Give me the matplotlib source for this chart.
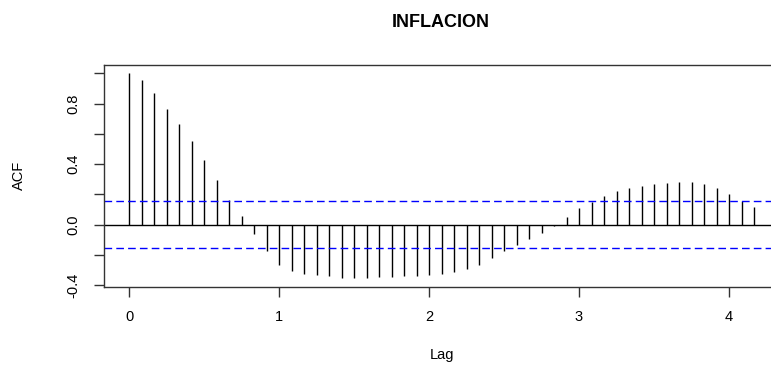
import numpy as np
import matplotlib
matplotlib.use("Agg")
import matplotlib.pyplot as plt

# ACF values, lags 0..50 (monthly, so lag/12)
acf_values = [
    1.000, 0.956, 0.868, 0.767, 0.664, 0.554, 0.428, 0.292, 0.165, 0.057,
    -0.059, -0.174, -0.266, -0.305, -0.325, -0.332, -0.341, -0.354, -0.356, -0.355,
    -0.347, -0.347, -0.338, -0.341, -0.332, -0.325, -0.314, -0.296, -0.264, -0.222,
    -0.176, -0.138, -0.097, -0.057, -0.011, 0.053, 0.108, 0.147, 0.187, 0.220,
    0.242, 0.257, 0.266, 0.275, 0.281, 0.281, 0.266, 0.242, 0.202, 0.158,
    0.116,
]
frequency = 12
conf_limit = 0.154
title = "INFLACION"
x_ticks = [0, 1, 2, 3, 4]
y_ticks = [-0.4, -0.2, 0.0, 0.2, 0.4, 0.6, 0.8, 1.0]
y_labels = ["-0.4", "", "0.0", "", "0.4", "", "0.8", ""]


def main() -> None:
    plt.rcParams["font.family"] = ["Liberation Sans", "DejaVu Sans"]
    lags = np.arange(len(acf_values)) / frequency

    fig = plt.figure(figsize=(7.71, 3.67), dpi=100)
    ax = fig.add_axes([0.1349, 0.2188, 0.8755, 0.604])

    ax.vlines(lags, 0, acf_values, color="black", linewidth=1.0)
    ax.axhline(0, color="black", linewidth=1.0)
    for c in (conf_limit, -conf_limit):
        ax.axhline(c, color="blue", linewidth=1.0, dashes=(5.5, 3))

    lo, hi = min(acf_values + [-conf_limit]), max(acf_values + [conf_limit])
    pad = 0.04 * (hi - lo)
    ax.set_ylim(lo - pad, hi + pad)
    xpad = 0.04 * lags[-1]
    ax.set_xlim(-xpad, lags[-1] + xpad)

    ax.set_xticks(x_ticks)
    ax.set_yticks(y_ticks)
    ax.set_yticklabels(y_labels, rotation=90, va="center")
    ax.tick_params(axis="both", direction="out", length=7, width=1.0,
                   labelsize=10.5, color="#333333")
    ax.tick_params(axis="x", pad=10)
    ax.tick_params(axis="y", pad=10)
    for s in ax.spines.values():
        s.set_color("#333333")
        s.set_linewidth(1.0)

    ax.set_xlabel("Lag", fontsize=10.5, labelpad=17)
    ax.set_ylabel("ACF", fontsize=10.5, labelpad=29)
    fig.text(0.5715, 0.94, title, ha="center", va="center",
             fontsize=13, fontweight="bold")

    fig.savefig("out.png", dpi=100)


if __name__ == '__main__':
    main()
